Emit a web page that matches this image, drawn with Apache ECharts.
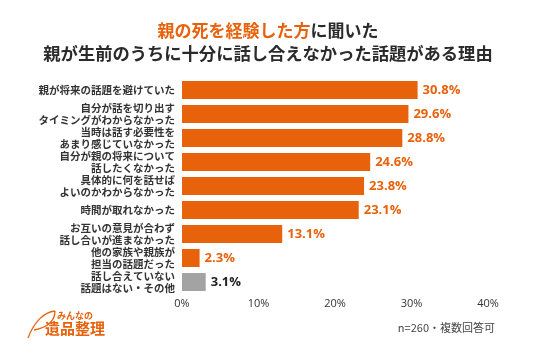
<!DOCTYPE html>
<html>
<head>
<meta charset="utf-8">
<script src="https://cdn.jsdelivr.net/npm/echarts@6/dist/echarts.min.js"></script>
<style>html,body{margin:0;padding:0;background:#fff}#c{width:536px;height:357px}</style>
</head>
<body>
<div id="c"></div>
<script>
const categories = [
  '親が将来の話題を避けていた',
  '自分が話を切り出す\nタイミングがわからなかった',
  '当時は話す必要性を\nあまり感じていなかった',
  '自分が親の将来について\n話したくなかった',
  '具体的に何を話せば\nよいのかわからなかった',
  '時間が取れなかった',
  'お互いの意見が合わず\n話し合いが進まなかった',
  '他の家族や親族が\n担当の話題だった',
  '話し合えていない\n話題はない・その他'
];
const values = [30.8, 29.6, 28.8, 24.6, 23.8, 23.1, 13.1, 2.3, 3.1];
const isOther = [false, false, false, false, false, false, false, false, true];
const xTicks = [0, 10, 20, 30, 40];
const titleLine1Orange = '親の死を経験した方';
const titleLine1Dark = 'に聞いた';
const titleLine2 = '親が生前のうちに十分に話し合えなかった話題がある理由';
const footnote = 'n=260・複数回答可';

const ORANGE = '#E8620C';
const GRAY = '#A3A3A3';
const JP = '"Noto Sans CJK JP", "Noto Sans", sans-serif';
const NUM = '"Open Sans", "Noto Sans", "Noto Sans CJK JP", sans-serif';

const chart = echarts.init(document.getElementById('c'), null, {renderer: 'canvas'});
chart.setOption({
  backgroundColor: '#fff',
  animation: false,
  title: {
    left: 'center',
    top: 14,
    text: '{o|' + titleLine1Orange + '}{d|' + titleLine1Dark + '}\n{d2|' + titleLine2 + '}',
    textStyle: {
      rich: {
        o: {color: ORANGE, fontSize: 17, fontWeight: 'bold', fontFamily: JP, lineHeight: 23},
        d: {color: '#2b2b2b', fontSize: 17, fontWeight: 'bold', fontFamily: JP, lineHeight: 23},
        d2: {color: '#2b2b2b', fontSize: 17.3, fontWeight: 'bold', fontFamily: JP, lineHeight: 23}
      }
    }
  },
  grid: {left: 182, right: 48, top: 78, height: 216, containLabel: false},
  xAxis: {
    type: 'value', min: xTicks[0], max: xTicks[xTicks.length - 1], interval: 10,
    axisLine: {show: false}, axisTick: {show: false}, splitLine: {show: false},
    axisLabel: {formatter: '{value}%', color: '#333', fontSize: 11, fontFamily: NUM, margin: 4}
  },
  yAxis: {
    type: 'category', inverse: true, data: categories,
    axisLine: {show: false}, axisTick: {show: false},
    axisLabel: {color: '#333', fontSize: 10.5, fontWeight: 'bold', fontFamily: JP, lineHeight: 11.5, margin: 7, align: 'right'}
  },
  series: [{
    type: 'bar',
    barCategoryGap: '25%',
    data: values.map((v, i) => ({
      value: v,
      itemStyle: {color: isOther[i] ? GRAY : ORANGE},
      label: {color: isOther[i] ? '#222' : ORANGE}
    })),
    label: {
      show: true, position: 'right', distance: 5,
      formatter: p => p.value + '%',
      fontSize: 13, fontWeight: 'bold', fontFamily: NUM
    }
  }],
  graphic: [
    {type: 'bezierCurve', shape: {x1: 28, y1: 338, x2: 55, y2: 311, cpx1: 34, cpy1: 322, cpx2: 44, cpy2: 312},
     style: {fill: null, stroke: ORANGE, lineWidth: 1.3}},
    {type: 'bezierCurve', shape: {x1: 55, y1: 311, x2: 34, y2: 330, cpx1: 55, cpy1: 324, cpx2: 44, cpy2: 328},
     style: {fill: null, stroke: ORANGE, lineWidth: 1.3}},
    {type: 'text', left: 57, top: 311, style: {text: 'みんなの', fill: ORANGE, font: 'bold 9px ' + JP}},
    {type: 'text', left: 45, top: 321, style: {text: '遺品整理', fill: ORANGE, font: 'bold 15px ' + JP}},
    {type: 'text', right: 41, top: 322, style: {text: footnote, fill: '#444', font: '11px ' + JP}}
  ]
});
</script>
</body>
</html>
